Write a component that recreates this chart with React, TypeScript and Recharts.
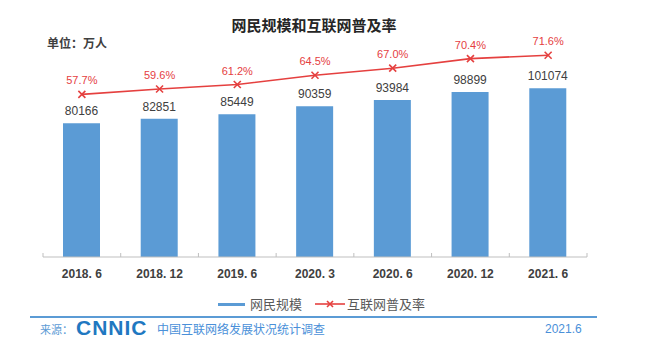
import React from "react";
import {
  ComposedChart,
  Bar,
  Line,
  XAxis,
  YAxis,
  LabelList,
} from "recharts";

const periods = ["2018. 6", "2018. 12", "2019. 6", "2020. 3", "2020. 6", "2020. 12", "2021. 6"];
const netizens = [80166, 82851, 85449, 90359, 93984, 98899, 101074];
const penetration = [57.7, 59.6, 61.2, 64.5, 67.0, 70.4, 71.6];

const data = periods.map((p, i) => ({
  period: p,
  users: netizens[i],
  rate: penetration[i],
}));

const FONT = '"Liberation Sans", Arial, "Noto Sans CJK SC", sans-serif';
const CJK = '"Noto Sans CJK SC", "Liberation Sans", sans-serif';
const BLUE = "#5b9bd5";
const RED = "#e5403f";

const W = 650;
const H = 353;
const M = { top: 40, right: 63, left: 43, bottom: 66 };
const band = (W - M.left - M.right) / periods.length;

function CrossDot(props: any) {
  const { cx, cy } = props;
  if (cx == null || cy == null) return null;
  const s = 3.5;
  return (
    <g stroke={RED} strokeWidth={1.6}>
      <line x1={cx - s} y1={cy - s} x2={cx + s} y2={cy + s} />
      <line x1={cx - s} y1={cy + s} x2={cx + s} y2={cy - s} />
    </g>
  );
}

function PeriodTick(props: any) {
  const { x, y, payload, index } = props;
  const axisY = y - 8;
  return (
    <g>
      <line x1={x - band / 2} y1={axisY - 4} x2={x - band / 2} y2={axisY} stroke="#bfbfbf" />
      {index === periods.length - 1 && (
        <line x1={x + band / 2} y1={axisY - 4} x2={x + band / 2} y2={axisY} stroke="#bfbfbf" />
      )}
      <text
        x={x}
        y={y + 10}
        textAnchor="middle"
        dominantBaseline="middle"
        fill="#404040"
        fontSize={12}
        fontWeight="bold"
        fontFamily={FONT}
      >
        {payload.value}
      </text>
    </g>
  );
}

export default function App() {
  return (
    <div
      style={{
        position: "absolute",
        left: 0,
        top: 0,
        width: W,
        height: H,
        background: "#fff",
        fontFamily: CJK,
      }}
    >
      <div
        style={{
          position: "absolute",
          top: 15,
          left: 0,
          width: 628,
          textAlign: "center",
          fontSize: 15,
          fontWeight: "bold",
          color: "#262626",
          lineHeight: "20px",
        }}
      >
        网民规模和互联网普及率
      </div>
      <div
        style={{
          position: "absolute",
          top: 35,
          left: 47,
          fontSize: 12,
          fontWeight: "bold",
          color: "#404040",
          lineHeight: "16px",
        }}
      >
        单位：万人
      </div>

      <ComposedChart width={W} height={H} data={data} margin={M} barSize={37}>
        <XAxis
          dataKey="period"
          axisLine={{ stroke: "#bfbfbf" }}
          tickLine={false}
          height={30}
          interval={0}
          tick={<PeriodTick />}
        />
        <YAxis yAxisId="left" hide domain={[0, 130000]} />
        <YAxis yAxisId="right" orientation="right" hide domain={[0, 77]} />
        <Bar yAxisId="left" dataKey="users" fill={BLUE} isAnimationActive={false}>
          <LabelList
            dataKey="users"
            position="top"
            offset={8}
            fill="#404040"
            fontSize={12}
            fontFamily={FONT}
          />
        </Bar>
        <Line
          yAxisId="right"
          dataKey="rate"
          type="linear"
          stroke={RED}
          strokeWidth={1.6}
          dot={<CrossDot />}
          activeDot={false}
          isAnimationActive={false}
        >
          <LabelList
            dataKey="rate"
            position="top"
            offset={10}
            fill={RED}
            fontSize={11}
            fontFamily={FONT}
            formatter={(v: any) => `${Number(v).toFixed(1)}%`}
          />
        </Line>
      </ComposedChart>

      {/* legend */}
      <div
        style={{
          position: "absolute",
          top: 296,
          left: 218,
          display: "flex",
          alignItems: "center",
          fontSize: 13,
          color: "#595959",
          lineHeight: "16px",
        }}
      >
        <span style={{ display: "inline-block", width: 27, height: 3, background: BLUE, marginRight: 5 }} />
        <span>网民规模</span>
        <svg width={30} height={10} style={{ marginLeft: 13, marginRight: 2 }}>
          <line x1={0} y1={5} x2={30} y2={5} stroke={RED} strokeWidth={1.6} />
          <line x1={12} y1={2} x2={18} y2={8} stroke={RED} strokeWidth={1.6} />
          <line x1={12} y1={8} x2={18} y2={2} stroke={RED} strokeWidth={1.6} />
        </svg>
        <span>互联网普及率</span>
      </div>

      {/* footer */}
      <div
        style={{
          position: "absolute",
          top: 316,
          left: 30,
          width: 567,
          height: 2,
          background: "#5b9bd5",
        }}
      />
      <div
        style={{
          position: "absolute",
          top: 321,
          left: 40,
          fontSize: 11,
          color: "#5b9bd5",
          lineHeight: "16px",
        }}
      >
        来源：
      </div>
      <div
        style={{
          position: "absolute",
          top: 316,
          left: 76,
          fontSize: 21,
          fontWeight: 900,
          color: "#1f78c1",
          fontFamily: FONT,
          lineHeight: "24px",
          letterSpacing: 1,
        }}
      >
        CNNIC
      </div>
      <div
        style={{
          position: "absolute",
          top: 321,
          left: 157,
          fontSize: 12,
          color: "#4a90d9",
          lineHeight: "16px",
        }}
      >
        中国互联网络发展状况统计调查
      </div>
      <div
        style={{
          position: "absolute",
          top: 321,
          left: 545,
          fontSize: 12,
          color: "#4a90d9",
          fontFamily: FONT,
          lineHeight: "16px",
        }}
      >
        2021.6
      </div>
    </div>
  );
}
